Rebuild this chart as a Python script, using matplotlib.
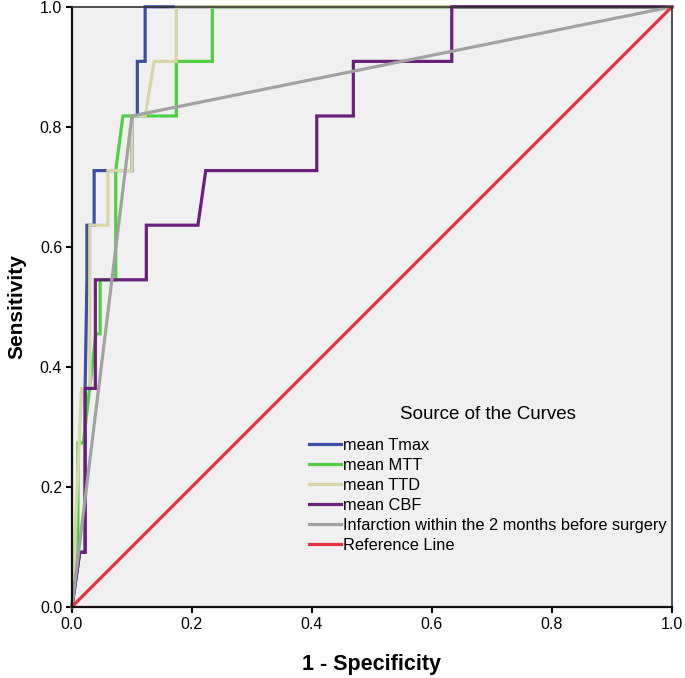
import matplotlib
matplotlib.use("Agg")
import matplotlib.pyplot as plt

plt.rcParams['font.family'] = ['Liberation Sans', 'DejaVu Sans']

# ROC curve points (1 - specificity, sensitivity)
tmax_x = [0.0, 0.013, 0.022, 0.022, 0.025, 0.025, 0.037, 0.037, 0.06, 0.1, 0.1, 0.109, 0.109, 0.122, 0.122, 1.0]
tmax_y = [0.0, 0.091, 0.091, 0.364, 0.545, 0.636, 0.636, 0.727, 0.727, 0.727, 0.818, 0.818, 0.909, 0.909, 1.0, 1.0]

mtt_x = [0.0, 0.01, 0.01, 0.019, 0.04, 0.047, 0.047, 0.073, 0.073, 0.085, 0.174, 0.174, 0.234, 0.234, 1.0]
mtt_y = [0.0, 0.091, 0.273, 0.273, 0.455, 0.455, 0.545, 0.545, 0.727, 0.818, 0.818, 0.909, 0.909, 1.0, 1.0]

ttd_x = [0.0, 0.008, 0.016, 0.03, 0.03, 0.06, 0.06, 0.1, 0.1, 0.122, 0.137, 0.174, 0.174, 1.0]
ttd_y = [0.0, 0.182, 0.364, 0.364, 0.636, 0.636, 0.727, 0.727, 0.818, 0.818, 0.909, 0.909, 1.0, 1.0]

cbf_x = [0.0, 0.013, 0.022, 0.022, 0.039, 0.039, 0.124, 0.124, 0.21, 0.223, 0.408, 0.408, 0.469, 0.469, 0.633, 0.633, 1.0]
cbf_y = [0.0, 0.091, 0.091, 0.364, 0.364, 0.545, 0.545, 0.636, 0.636, 0.727, 0.727, 0.818, 0.818, 0.909, 0.909, 1.0, 1.0]

inf_x = [0.0, 0.1, 1.0]
inf_y = [0.0, 0.818, 1.0]

ref_x = [0.0, 1.0]
ref_y = [0.0, 1.0]

curves = [
    ("mean Tmax", tmax_x, tmax_y, "#3b4fa3"),
    ("mean MTT", mtt_x, mtt_y, "#4fd043"),
    ("mean TTD", ttd_x, ttd_y, "#d6d6a6"),
    ("mean CBF", cbf_x, cbf_y, "#6a1f7c"),
    ("Infarction within the 2 months before surgery", inf_x, inf_y, "#a2a2a2"),
    ("Reference Line", ref_x, ref_y, "#e5323f"),
]
ticks = [0.0, 0.2, 0.4, 0.6, 0.8, 1.0]

fig = plt.figure(figsize=(6.85, 6.78), dpi=100)
ax = fig.add_axes([0.105, 0.105, 0.876, 0.885])
ax.set_facecolor("#f0f0f0")

# later curves are drawn on top, as in the original
for label, xs, ys, color in curves:
    ax.plot(xs, ys, color=color, lw=2.3, label=label, clip_on=False,
            solid_joinstyle="miter")

ax.set_xlim(0, 1)
ax.set_ylim(0, 1)
ax.set_xticks(ticks)
ax.set_yticks(ticks)
ax.set_xticklabels([f"{t:.1f}" for t in ticks])
ax.set_yticklabels([f"{t:.1f}" for t in ticks])
ax.tick_params(direction="out", length=4, width=1.5, labelsize=11.5, pad=3)
for side in ["left", "bottom"]:
    ax.spines[side].set_linewidth(1.6)
    ax.spines[side].set_color("#111111")
for side in ["top", "right"]:
    ax.spines[side].set_linewidth(1.2)
    ax.spines[side].set_color("#333333")

ax.set_xlabel("1 - Specificity", fontsize=15.5, fontweight="bold", labelpad=16)
ax.set_ylabel("Sensitivity", fontsize=15, fontweight="bold", labelpad=10)

leg = ax.legend(title="Source of the Curves",
                loc="upper left", bbox_to_anchor=(0.395, 0.335), frameon=False,
                fontsize=11.8, title_fontsize=13.5, borderpad=0, borderaxespad=0,
                handlelength=1.95, handletextpad=0.1, labelspacing=0.3)
leg._legend_box.sep = 11
for line in leg.get_lines():
    line.set_linewidth(2.3)

fig.savefig("out.png", dpi=100)
